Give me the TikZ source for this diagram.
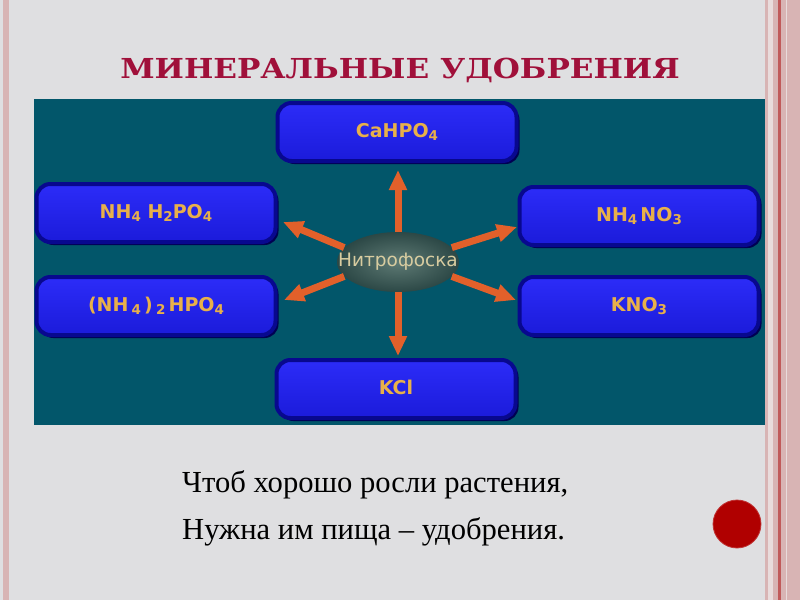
\documentclass[tikz,border=0pt]{standalone}
\usepackage{fontspec}
\usepackage{graphicx}
\usetikzlibrary{arrows.meta,shapes.geometric,shadows}
\setmainfont{Liberation Serif}
\newfontfamily\titlefont[FakeStretch=1.13]{DejaVu Serif}
\newfontfamily\boxfont{DejaVu Sans}
\definecolor{bgcol}{HTML}{DFDFE1}
\definecolor{stripA}{HTML}{D8B4B4}
\definecolor{stripB}{HTML}{E9DCDC}
\definecolor{stripC}{HTML}{C05A5A}
\definecolor{panelcol}{HTML}{02566A}
\definecolor{boxtop}{HTML}{2C2CF8}
\definecolor{boxbot}{HTML}{1B1BDA}
\definecolor{boxedge}{HTML}{08088E}
\definecolor{boxshadow}{HTML}{000052}
\definecolor{goldtext}{HTML}{E8B04A}
\definecolor{arrowcol}{HTML}{E2602A}
\definecolor{ellin}{HTML}{5E7A74}
\definecolor{ellout}{HTML}{2C4846}
\definecolor{elltext}{HTML}{D8CCA0}
\definecolor{titlecol}{HTML}{A0103A}
\definecolor{dotcol}{HTML}{B00000}
\newcommand{\chemsub}[1]{\raisebox{-3pt}{\fontsize{13.5}{13.5}\selectfont #1}}
\tikzset{
  chembox/.style={rounded corners=14pt, minimum width=239pt, minimum height=58pt,
    inner sep=0pt, top color=boxtop, bottom color=boxbot, draw=boxedge, line width=4pt,
    drop shadow={shadow xshift=3pt, shadow yshift=-3pt, fill=boxshadow, opacity=1},
    text=goldtext, font=\boxfont\bfseries\fontsize{19}{19}\selectfont,
    text height=14pt, text depth=4pt},
  arr/.style={draw=arrowcol, line width=7pt, -{Triangle[length=20pt,width=17pt]}},
  center/.style={ellipse, minimum width=122pt, minimum height=60pt, inner sep=0pt,
    shading=radial, inner color=ellin, outer color=ellout},
  verse/.style={anchor=base west, inner sep=0pt, font=\fontsize{30.6}{36}\selectfont, text=black}
}
\begin{document}
\begin{tikzpicture}[x=1pt,y=-1pt]
\useasboundingbox (0,0) rectangle (800,600);
\fill[bgcol] (0,0) rectangle (800,600);
% left strip
\fill[stripA] (3,0) rectangle (9,600);
% right strips
\fill[stripA] (765,0) rectangle (768,600);
\fill[stripB] (768,0) rectangle (773,600);
\fill[stripA] (773,0) rectangle (778,600);
\fill[stripC] (778,0) rectangle (781,600);
\fill[stripA] (781,0) rectangle (786,600);
\fill[stripB] (786,0) rectangle (787,600);
\fill[stripA] (787,0) rectangle (800,600);
% panel
\fill[panelcol] (34,99) rectangle (765,425);
% title
\node[anchor=base, inner sep=0pt, text=titlecol, font=\titlefont\bfseries\fontsize{27.5}{30}\selectfont] (title) at (400,78) {МИНЕРАЛЬНЫЕ УДОБРЕНИЯ};
% boxes
\node[chembox] (top) at (397,132) {CaHPO\chemsub{4}};
\node[chembox] (lt) at (156,213) {NH\chemsub{4} H\chemsub{2}PO\chemsub{4}};
\node[chembox] (lb) at (156,306) {(NH\,\chemsub{4}\,)\,\chemsub{2}\,HPO\chemsub{4}};
\node[chembox] (rt) at (639,216) {NH\chemsub{4}\,NO\chemsub{3}};
\node[chembox] (rb) at (639,306) {KNO\chemsub{3}};
\node[chembox] (bot) at (396,389) {KCl};
% center
\node[center] (nitro) at (398,262) {};
\node[text=elltext, font=\boxfont\fontsize{18.5}{20}\selectfont, inner sep=0pt, anchor=base] (nitrotext) at (398,266) {Нитрофоска};
% tips
\coordinate (tU) at (398,170);
\coordinate (tD) at (398,356);
\coordinate (tUL) at (283,222);
\coordinate (tUR) at (517,227);
\coordinate (tDL) at (284,300);
\coordinate (tDR) at (516,300);
\draw[arr] (nitro.north) -- (tU);
\draw[arr] (nitro.south) -- (tD);
\draw[arr] (nitro.165) -- (tUL);
\draw[arr] (nitro.15) -- (tUR);
\draw[arr] (nitro.195) -- (tDL);
\draw[arr] (nitro.345) -- (tDR);
% verse
\node[verse] (line1) at (182,492) {Чтоб хорошо росли растения,};
\node[verse] (line2) at (182,539) {Нужна им пища – удобрения.};
% dot
\node[circle, fill=dotcol, draw=dotcol!80!white, line width=0.8pt, minimum size=48pt, inner sep=0pt] (dot) at (737,524) {};
\end{tikzpicture}
\end{document}
